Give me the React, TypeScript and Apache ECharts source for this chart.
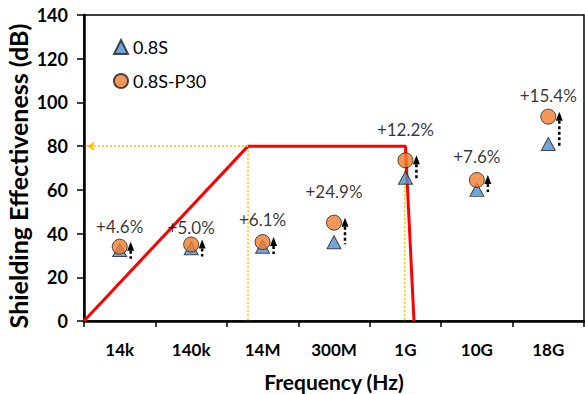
import React, { useEffect, useRef } from "react";
import * as echarts from "echarts";

const categories = ["14k", "140k", "14M", "300M", "1G", "10G", "18G"];
const se08S = [32.5, 33.3, 34, 36, 65.5, 60, 81];
const se08SP30 = [34, 35, 36.1, 45, 73.5, 64.5, 93.5];
const improvementLabels = ["+4.6%", "+5.0%", "+6.1%", "+24.9%", "+12.2%", "+7.6%", "+15.4%"];
const labelGaps = [4, 1, 6, 15, 14, 7, 5];
const limitX = [0, 2.296, 4.5, 4.62];
const limitY = [0, 80, 80, 0];
const guideLow = [2.296, 4.49];
const limitLevel = 80;
const yAxisTitle = "Shielding Effectiveness (dB)";
const xAxisTitle = "Frequency (Hz)";

const FONT = "Lato";

export default function App() {
  const ref = useRef<HTMLDivElement>(null);
  useEffect(() => {
    if (!ref.current) return;
    const chart = echarts.init(ref.current, null, { renderer: "svg" });
    const arrowData = categories.map((_, i) => [i, se08S[i], se08SP30[i]]);
    const dotted = { color: "#FFC000", width: 1.5, type: [2, 2] as any };
    chart.setOption({
      animation: false,
      textStyle: { fontFamily: FONT },
      grid: {
        left: 84,
        right: 1,
        top: 15,
        bottom: 73,
        containLabel: false,
        outerBoundsMode: "none",
        show: true,
        borderColor: "#000",
        borderWidth: 1.5,
      },
      graphic: [
        {
          type: "text",
          x: 18,
          y: 176,
          rotation: Math.PI / 2,
          style: {
            text: yAxisTitle,
            fill: "#000",
            fontFamily: FONT,
            fontWeight: "bold",
            fontSize: 25,
            align: "center",
            verticalAlign: "middle",
          },
        },
      ],
      legend: {
        orient: "vertical",
        left: 108,
        top: 33,
        itemWidth: 14,
        itemHeight: 14,
        itemGap: 16,
        textStyle: { fontFamily: FONT, fontSize: 18, color: "#000" },
        data: ["0.8S", "0.8S-P30"],
      },
      xAxis: [
        {
          type: "category",
          data: categories,
          boundaryGap: true,
          axisLine: { lineStyle: { color: "#000", width: 2.5 } },
          axisTick: { show: true, length: 6, lineStyle: { color: "#000", width: 1.5 } },
          axisLabel: { color: "#000", fontWeight: "bold", fontSize: 17, margin: 20, fontFamily: FONT },
          name: xAxisTitle,
          nameLocation: "middle",
          nameGap: 50,
          nameTextStyle: { color: "#000", fontWeight: "bold", fontSize: 21, fontFamily: FONT },
        },
        {
          type: "value",
          min: 0,
          max: 7,
          show: false,
        },
      ],
      yAxis: {
        type: "value",
        min: 0,
        max: 140,
        interval: 20,
        splitLine: { show: false },
        axisLine: { show: true, lineStyle: { color: "#000", width: 2.5 } },
        axisTick: { show: true, length: 7, lineStyle: { color: "#000", width: 1.5 } },
        axisLabel: { color: "#000", fontWeight: "bold", fontSize: 18, margin: 16, fontFamily: FONT },
      },
      series: [
        {
          type: "line",
          xAxisIndex: 1,
          data: limitX.map((x, i) => [x, limitY[i]]),
          symbol: "none",
          lineStyle: { color: "#FF0000", width: 3 },
          z: 3,
        },
        {
          type: "line",
          xAxisIndex: 1,
          data: [[guideLow[0], limitLevel], [guideLow[0], 0]],
          symbol: "none",
          lineStyle: dotted,
          z: 2,
          markLine: {
            silent: true,
            symbol: ["none", "arrow"],
            symbolSize: [7, 8],
            label: { show: false },
            lineStyle: dotted,
            data: [[{ coord: [guideLow[0], limitLevel] }, { coord: [0.04, limitLevel] }]],
          },
        },
        {
          type: "line",
          xAxisIndex: 1,
          data: [[guideLow[1], limitLevel], [guideLow[1], 0]],
          symbol: "none",
          lineStyle: dotted,
          z: 2,
        },
        {
          type: "custom",
          xAxisIndex: 0,
          data: arrowData,
          z: 4,
          renderItem: (params: any, api: any) => {
            const top = api.coord([api.value(0), api.value(2)]);
            const bot = api.coord([api.value(0), api.value(1)]);
            const x = top[0] + 11;
            const tip = top[1] - 5;
            const base = tip + 9;
            const bottom = Math.max(bot[1] + 2, base + 8);
            return {
              type: "group",
              children: [
                {
                  type: "line",
                  shape: { x1: x, y1: base, x2: x, y2: bottom },
                  style: { stroke: "#000", lineWidth: 2.5, lineDash: [3, 2.5] },
                },
                {
                  type: "polygon",
                  shape: { points: [[x, tip], [x - 3.5, base], [x + 3.5, base]] },
                  style: { fill: "#000" },
                },
              ],
            };
          },
        },
        {
          name: "0.8S",
          type: "scatter",
          data: se08S,
          symbol: "triangle",
          symbolSize: [14, 13],
          itemStyle: { color: "#4F8FD0", borderColor: "#222", borderWidth: 1 },
          z: 5,
        },
        {
          name: "0.8S-P30",
          type: "scatter",
          data: se08SP30.map((v, i) => ({
            value: v,
            label: { distance: labelGaps[i] },
          })),
          symbol: "circle",
          symbolSize: 15,
          itemStyle: { color: "#ED7D31", borderColor: "#222", borderWidth: 1 },
          z: 6,
          label: {
            show: true,
            position: "top",
            color: "#000",
            fontSize: 17,
            fontFamily: FONT,
            formatter: (p: any) => improvementLabels[p.dataIndex],
          },
        },
      ],
    });
    return () => chart.dispose();
  }, []);
  return (
    <div
      ref={ref}
      style={{ position: "fixed", left: 0, top: 0, width: 585, height: 394, background: "#fff" }}
    />
  );
}
